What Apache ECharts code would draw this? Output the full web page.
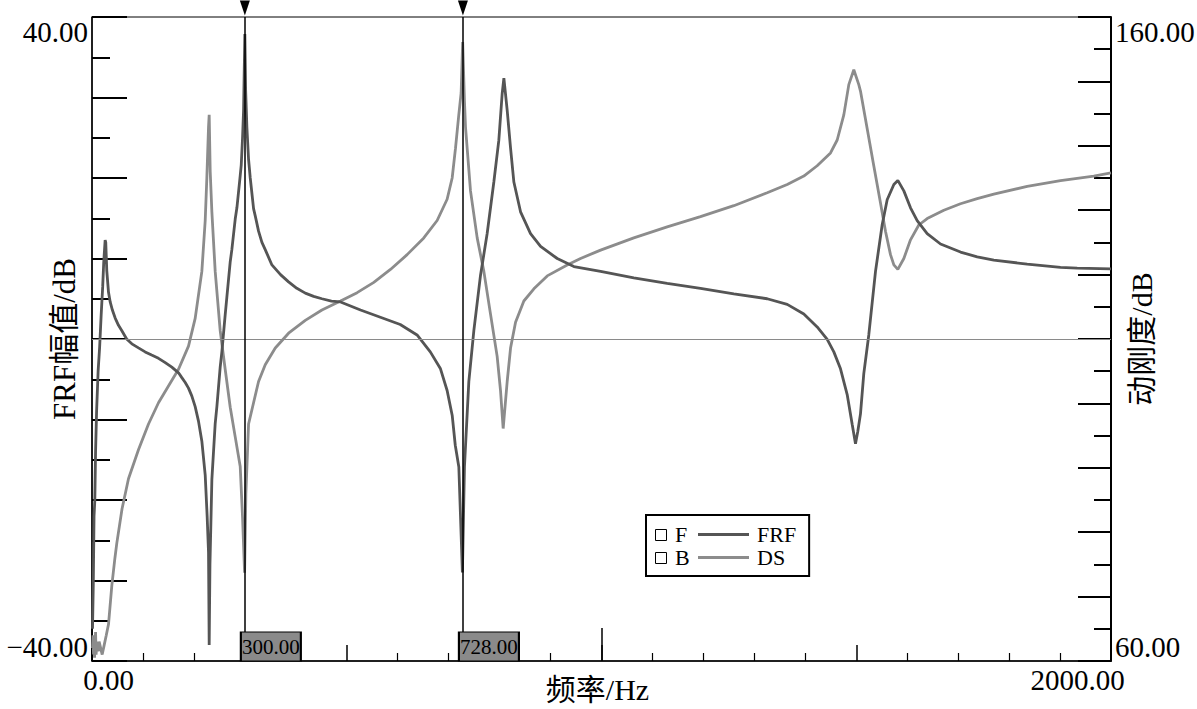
<!DOCTYPE html>
<html><head><meta charset="utf-8">
<script src="https://cdn.jsdelivr.net/npm/echarts@6/dist/echarts.min.js"></script>
<style>html,body{margin:0;padding:0;background:#fff}#c{width:1197px;height:709px}</style>
</head><body><div id="c"></div>
<script>
// FRF amplitude (dB) vs frequency (Hz)
const frfPoints = [[1,-36],[2.5,-30.6],[4,-22],[5.5,-20.1],[7,-14],[9,-9],[12,-4],[15,-1],[18,3],[21,6.5],[23,9.5],[25.8,12.3],[27,12.0],[29,8.5],[32.4,5.8],[35.7,4.6],[40,3.6],[45.5,2.6],[52,1.7],[58.9,1.0],[68,0.0],[78.2,-0.6],[91.2,-1.1],[104.3,-1.6],[117,-2.0],[130.5,-2.4],[143,-2.9],[156.7,-3.5],[169.8,-4.2],[176.3,-4.8],[183,-5.4],[189.4,-6.1],[196,-7.1],[202.5,-8.4],[209,-10.2],[215.6,-12.7],[222.2,-16.9],[226,-22],[228.7,-26.5],[230,-38],[231.5,-28],[235.3,-17.4],[241.8,-10.5],[245.1,-8.4],[251.6,-3.5],[254.9,-1.6],[261.4,3.0],[264.7,5.2],[271.3,9.6],[274.5,11.1],[281.1,14.9],[284.4,16.3],[290.9,20.3],[292.9,21.6],[295.5,25],[297.5,28.4],[300,37.9],[301.5,31],[304,26.3],[307.3,22.3],[310.6,20.0],[317.1,16.2],[320.4,15.3],[326.9,13.4],[333.5,12.0],[340,11.1],[353.1,9.2],[370,8.0],[385.8,7.1],[402,6.3],[418.6,5.7],[435,5.3],[451.3,5.0],[470,4.7],[487.8,4.6],[527,3.6],[566,2.7],[605,1.8],[638,0.5],[664,-1.6],[684,-3.7],[697,-6.4],[707,-9.5],[713,-13.2],[720,-15.9],[727,-29.0],[731,-15.9],[739.6,-5.3],[749.4,1.0],[762.5,7.9],[775.6,13.1],[788.7,19.5],[798.5,24.7],[805.1,30.5],[808.4,32.4],[814.9,28.4],[821.5,23.7],[828,19.5],[841.1,15.8],[860.7,13.1],[880.4,11.5],[913.1,10.0],[945.8,9.0],[998.2,8.4],[1063.4,7.6],[1128.9,6.9],[1194.3,6.3],[1259.7,5.6],[1325.2,5.0],[1364.5,4.3],[1397.1,3.1],[1423.3,1.5],[1443,-0.05],[1456,-1.6],[1469.1,-3.7],[1482.2,-6.9],[1492,-10.6],[1498.5,-13.0],[1503,-11.5],[1508.3,-9.3],[1514.8,-4.3],[1524.6,0.5],[1537.8,8.4],[1550.9,14.2],[1560.7,17.3],[1573.8,19.2],[1581.6,19.7],[1593.4,18.4],[1606.5,16.3],[1619.6,14.7],[1639.2,13.1],[1665.4,11.8],[1704.6,10.8],[1737.4,10.2],[1770,9.8],[1835.5,9.3],[1900.9,8.9],[1933.6,8.8],[2000,8.7]];

// Dynamic stiffness (dB) vs frequency (Hz)
const dsPoints = [[1,62],[2,64],[3,61],[4,63.5],[5,60.5],[6,62.5],[7,64.5],[8,61],[10,63],[12,61.5],[14,63],[17,62],[20,61],[24,62.5],[28,64],[32.4,65.7],[38.9,71.7],[45,76],[48.7,78.3],[58.9,83.6],[71.6,88.3],[91.2,92.8],[110.9,96.8],[130.5,100.1],[150.1,102.7],[169.8,105.3],[189.4,108.9],[202.5,113.2],[215.6,120.5],[222.2,128.4],[225.4,135.0],[228.7,142.9],[230,144.8],[232,136],[235.3,129.7],[241.8,120.5],[251.6,111.3],[261.4,105.3],[271.3,99.4],[281.1,94.8],[290.9,90.2],[295.5,82.3],[299.5,73.7],[302,86],[307.3,96.8],[317.1,100.1],[326.9,103.4],[340,106.0],[359.7,108.6],[385.8,110.9],[418.6,112.9],[451.3,114.5],[487.8,115.9],[520.4,117.2],[553.1,118.8],[585.8,120.8],[618.5,123.1],[651.2,125.7],[677.4,128.4],[697,131.7],[706.9,135.0],[713.4,139.6],[719.9,144.8],[724.5,148.2],[727.5,156.1],[731,147],[733.1,142.9],[742.9,133.0],[756,125.7],[769.1,120.5],[782.1,113.9],[795.2,107.3],[801.8,102.0],[807,96.1],[814.9,103.4],[821.5,108.6],[831.3,112.6],[847.6,115.9],[867.3,117.8],[893.5,119.8],[932.7,121.5],[958.9,122.5],[998.2,123.8],[1063.4,125.7],[1128.9,127.4],[1194.3,129.0],[1259.7,130.7],[1325.2,132.7],[1364.5,134.0],[1397.1,135.3],[1423.3,136.9],[1449.5,138.9],[1462.6,140.9],[1475.6,144.8],[1485.4,149.5],[1495.2,151.8],[1505,149.5],[1508.3,148.5],[1521.4,142.7],[1534.4,136.9],[1547.6,131.1],[1557.5,126.7],[1567.2,123.1],[1573.8,121.5],[1581.6,120.8],[1593.4,122.5],[1606.5,125.4],[1622.8,127.7],[1639.2,128.7],[1671.9,130.0],[1704.6,131.0],[1737.4,131.8],[1770,132.5],[1835.5,133.7],[1900.9,134.6],[1966.2,135.3],[2000,135.8]];

const markerFreqs = [300, 728];
const xRange = [0, 2000];
const leftRange = [-40, 40];
const rightRange = [60, 160];
const xEndLabels = ['0.00', '2000.00'];
const leftEndLabels = ['\u221240.00', '40.00'];
const rightEndLabels = ['60.00', '160.00'];
const seriesNames = ['FRF', 'DS'];
const legendKeys = ['F', 'B'];

const SERIF = '"Liberation Serif","Times New Roman","Noto Sans CJK SC",serif';
const FRF_COLOR = '#555555';
const DS_COLOR = '#8c8c8c';

const chart = echarts.init(document.getElementById('c'), null, {renderer: 'svg'});

function endFmt(range, labels) {
  return function (v) {
    if (v === range[0]) return labels[0];
    if (v === range[1]) return labels[1];
    return '';
  };
}

const option = {
  animation: false,
  backgroundColor: '#fff',
  grid: {left: 92, right: 86, top: 17, bottom: 48, show: true, borderColor: '#000', borderWidth: 1,
    backgroundColor: 'transparent', containLabel: false, outerBoundsMode: 'none'},
  legend: {
    data: seriesNames,
    orient: 'vertical',
    left: 646, top: 515,
    padding: [8, 13, 7, 52],
    itemWidth: 51, itemHeight: 3, itemGap: 0,
    icon: 'rect',
    backgroundColor: '#fff', borderColor: '#000', borderWidth: 2,
    textStyle: {fontFamily: SERIF, fontSize: 22, color: '#000', lineHeight: 23, padding: [0, 0, 0, 3]},
    selectedMode: false, z: 10
  },
  graphic: [
    {type: 'rect', z: 100, left: 655, top: 529, shape: {width: 11, height: 11}, style: {fill: '#fff', stroke: '#000', lineWidth: 1}},
    {type: 'text', z: 100, left: 675, top: 523, style: {text: legendKeys[0], font: '22px ' + SERIF, fill: '#000'}},
    {type: 'rect', z: 100, left: 655, top: 552, shape: {width: 11, height: 11}, style: {fill: '#fff', stroke: '#000', lineWidth: 1}},
    {type: 'text', z: 100, left: 675, top: 546, style: {text: legendKeys[1], font: '22px ' + SERIF, fill: '#000'}}
  ],
  xAxis: [
    {
      type: 'value', min: xRange[0], max: xRange[1], interval: 500,
      name: '频率/Hz', nameLocation: 'middle', nameGap: 13, nameMoveOverlap: false,
      nameTextStyle: {fontFamily: SERIF, fontSize: 30, color: '#000', verticalAlign: 'top', padding: [0, 8, 0, 0]},
      axisLine: {onZero: false, lineStyle: {color: '#000', width: 1.5}},
      axisTick: {inside: true, length: 16, lineStyle: {color: '#000', width: 1.5}},
      minorTick: {show: true, splitNumber: 5, length: 8, lineStyle: {color: '#000', width: 1.2}},
      splitLine: {show: false},
      axisLabel: {
        margin: 4, fontFamily: SERIF, fontSize: 29, color: '#000',
        formatter: function (v) {
          if (v === xRange[0]) return '{a|' + xEndLabels[0] + '}';
          if (v === xRange[1]) return '{b|' + xEndLabels[1] + '}';
          return '';
        },
        rich: {
          a: {fontFamily: SERIF, fontSize: 29, color: '#000', padding: [0, 0, 0, 33]},
          b: {fontFamily: SERIF, fontSize: 29, color: '#000', padding: [0, 67, 0, 0]}
        }
      }
    },
    {
      type: 'value', min: xRange[0], max: xRange[1], interval: 1000, position: 'bottom',
      axisLine: {show: false, onZero: false},
      axisTick: {show: true, inside: true, length: 33, lineStyle: {color: '#000', width: 1.5}},
      axisLabel: {show: false}, splitLine: {show: false}
    }
  ],
  yAxis: [
    {
      type: 'value', min: leftRange[0], max: leftRange[1], interval: 10, position: 'left',
      name: 'FRF幅值/dB', nameLocation: 'middle', nameGap: 12, nameRotate: 90, nameMoveOverlap: false,
      nameTextStyle: {fontFamily: SERIF, fontSize: 31, color: '#000', verticalAlign: 'bottom'},
      axisLine: {show: true, onZero: false, lineStyle: {color: '#000', width: 1.5}},
      axisTick: {show: true, inside: true, length: 35, lineStyle: {color: '#000', width: 2}},
      minorTick: {show: true, splitNumber: 2, length: 18, lineStyle: {color: '#000', width: 2}},
      splitLine: {show: false},
      axisLabel: {margin: 4, fontFamily: SERIF, fontSize: 29, color: '#000',
        verticalAlignMaxLabel: 'top', verticalAlignMinLabel: 'bottom',
        formatter: endFmt(leftRange, leftEndLabels)}
    },
    {
      type: 'value', min: rightRange[0], max: rightRange[1], interval: 10, position: 'right',
      name: '动刚度/dB', nameLocation: 'middle', nameGap: 15, nameRotate: 90, nameMoveOverlap: false,
      nameTextStyle: {fontFamily: SERIF, fontSize: 30, color: '#000', verticalAlign: 'top'},
      axisLine: {show: true, onZero: false, lineStyle: {color: '#000', width: 2}},
      axisTick: {show: true, inside: true, length: 33, lineStyle: {color: '#000', width: 2}},
      minorTick: {show: true, splitNumber: 2, length: 17, lineStyle: {color: '#000', width: 2}},
      splitLine: {show: false},
      axisLabel: {margin: 4, fontFamily: SERIF, fontSize: 29, color: '#000',
        verticalAlignMaxLabel: 'top', verticalAlignMinLabel: 'bottom',
        formatter: endFmt(rightRange, rightEndLabels)}
    }
  ],
  series: [
    {
      name: seriesNames[1], type: 'line', yAxisIndex: 1, data: dsPoints,
      showSymbol: false, symbol: 'none', z: 2,
      lineStyle: {color: DS_COLOR, width: 2.8}, itemStyle: {color: DS_COLOR}
    },
    {
      name: seriesNames[0], type: 'line', yAxisIndex: 0, data: frfPoints,
      showSymbol: false, symbol: 'none', z: 3,
      lineStyle: {color: FRF_COLOR, width: 2.8}, itemStyle: {color: FRF_COLOR}
    },
    {
      name: 'markers', type: 'line', yAxisIndex: 0, data: [], z: 5,
      markLine: {
        silent: true, symbol: ['none', 'none'], animation: false,
        label: {show: false},
        data: [{yAxis: 0, lineStyle: {color: '#8a8a8a', width: 1, type: 'solid'}}]
          .concat(markerFreqs.map(f => ({xAxis: f, lineStyle: {color: '#000', width: 1.5, type: 'solid'}})))
      },
      markPoint: {
        silent: true, animation: false,
        data: markerFreqs.map(f => ({
          coord: [f, leftRange[1]], symbol: 'triangle', symbolRotate: 180,
          symbolSize: [10, 15], symbolOffset: [0, -9],
          itemStyle: {color: '#000'}, label: {show: false}
        })).concat(markerFreqs.map(f => ({
          coord: [f, leftRange[0]], symbol: 'rect', symbolSize: [60, 29], symbolOffset: [26, -14.5],
          itemStyle: {color: '#8a8a8a', borderColor: '#000', borderWidth: 1.5},
          label: {show: true, position: 'inside', formatter: f.toFixed(2), fontFamily: SERIF, fontSize: 21, color: '#000'}
        })))
      }
    }
  ]
};
chart.setOption(option);
</script>
</body></html>
